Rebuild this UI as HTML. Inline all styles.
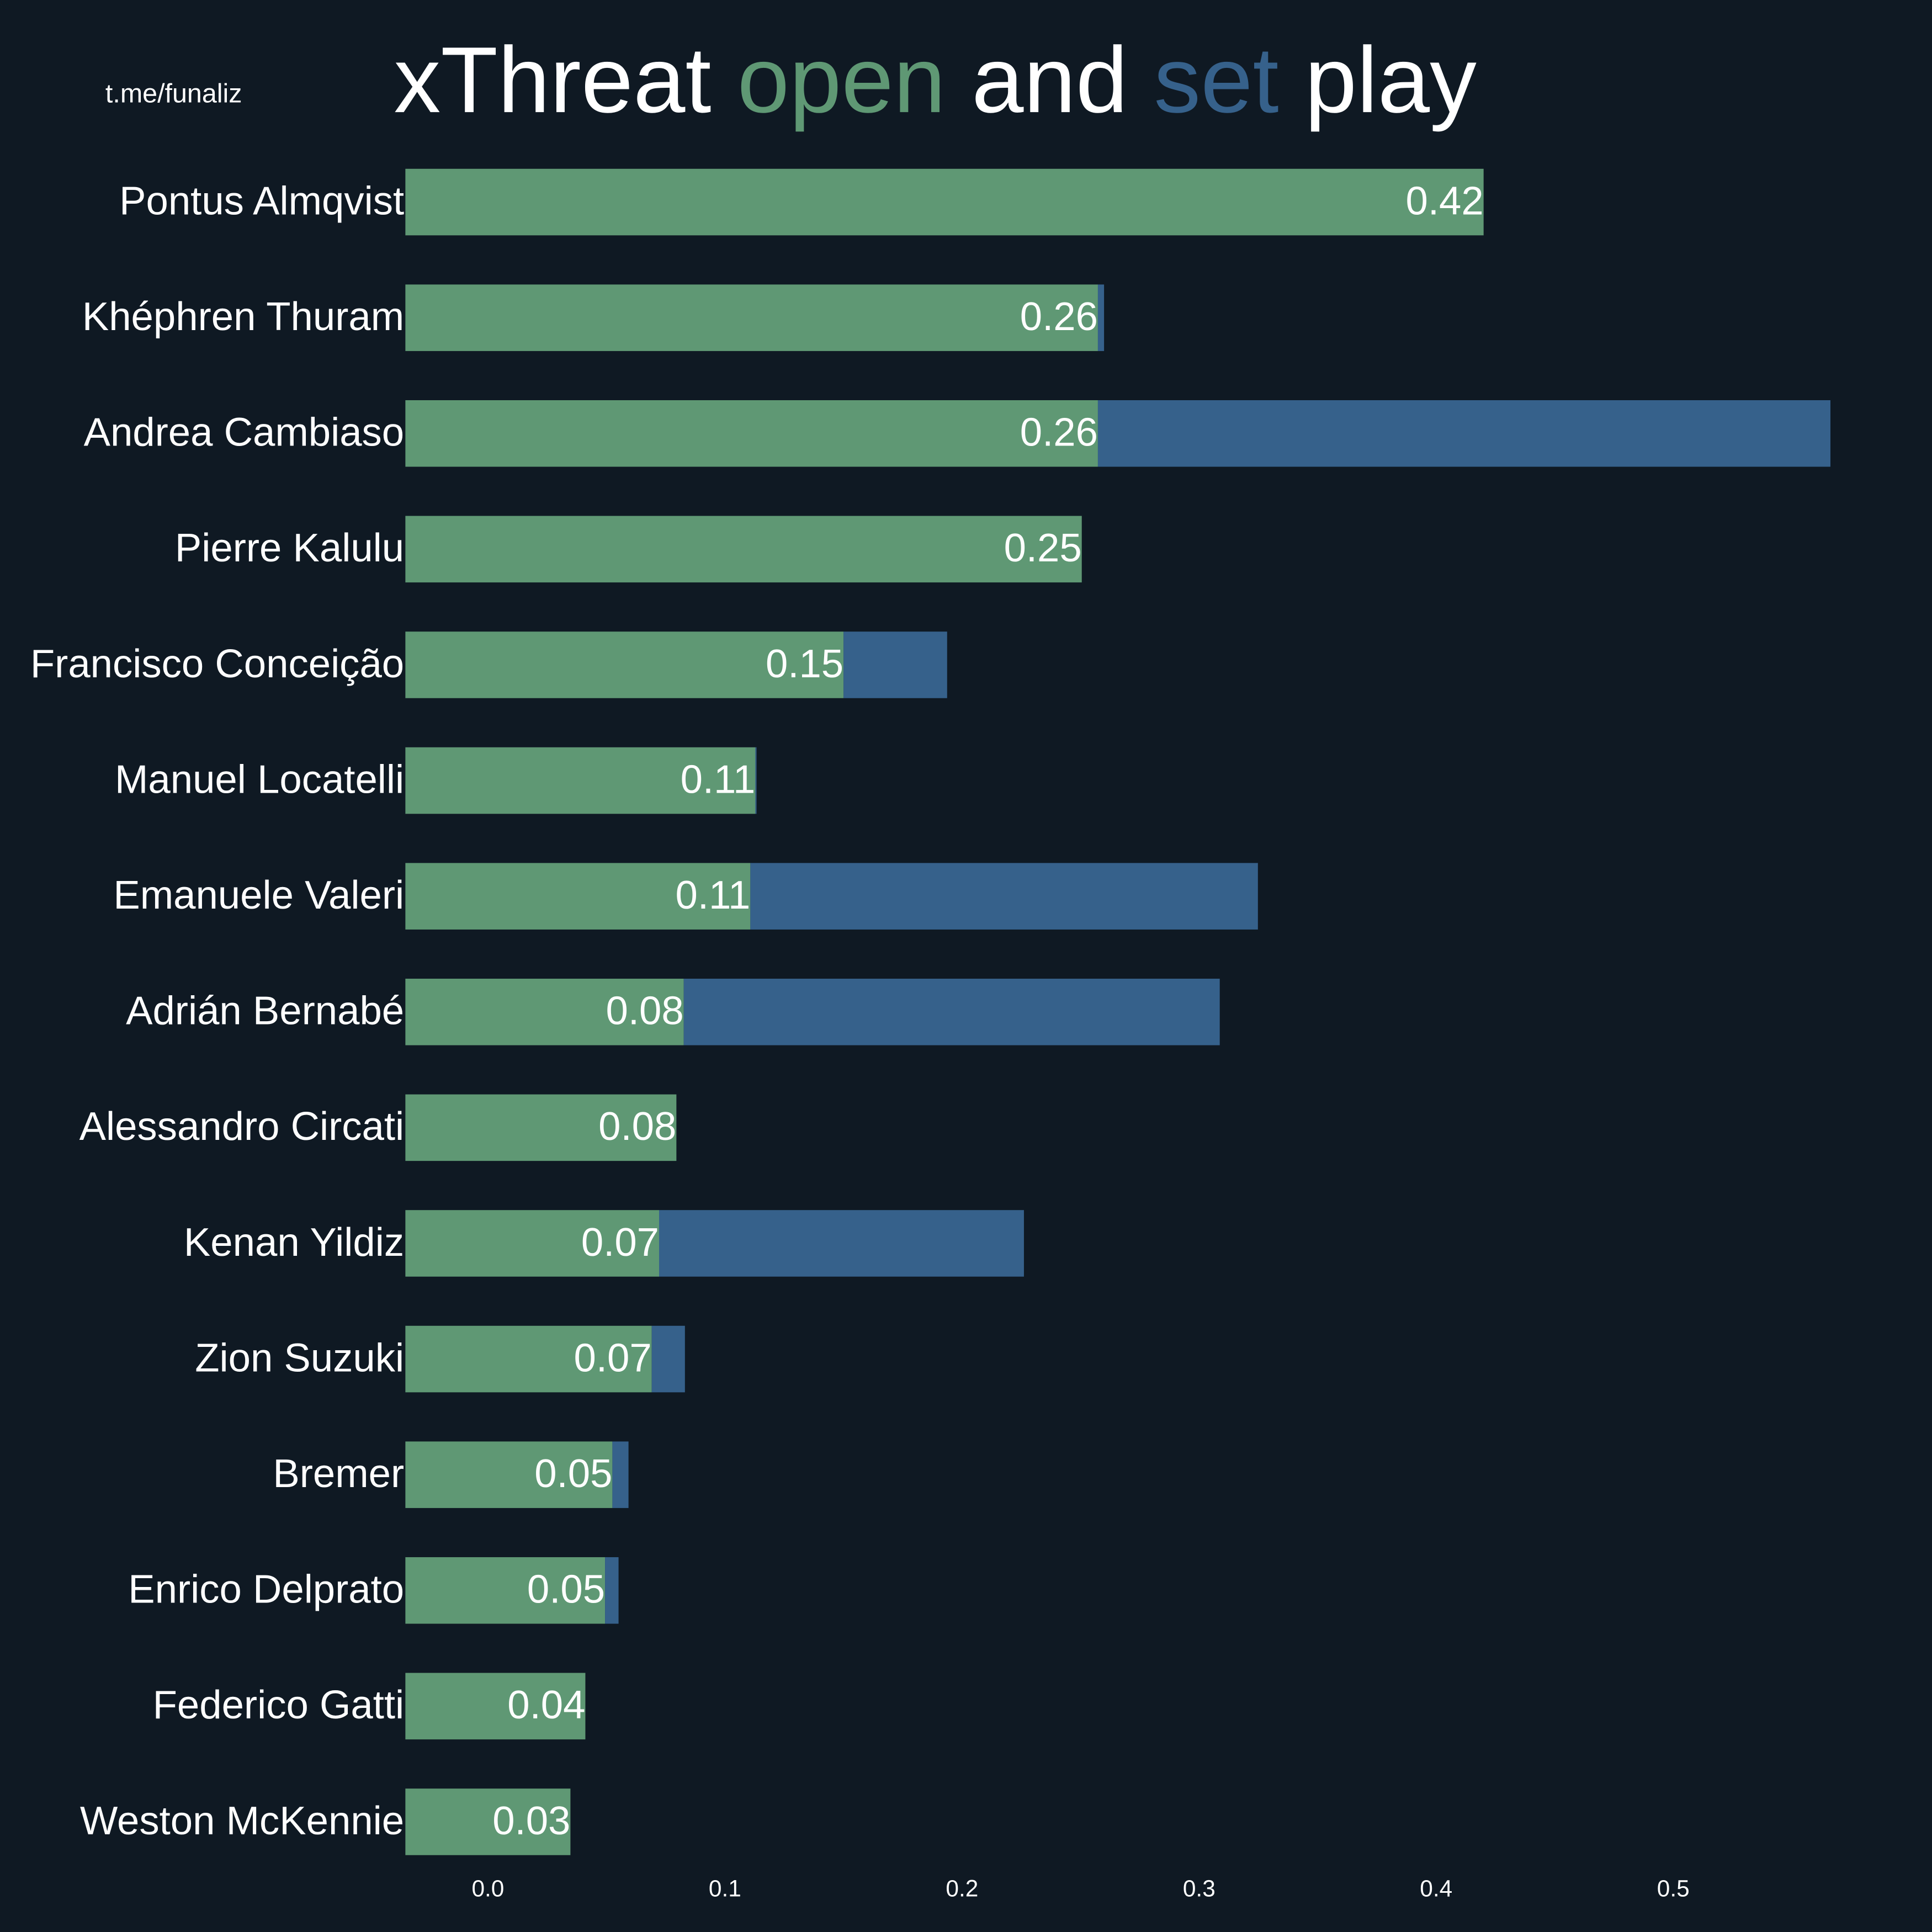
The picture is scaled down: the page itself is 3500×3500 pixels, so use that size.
<!DOCTYPE html>
<html><head><meta charset="utf-8">
<style>
html,body{margin:0;padding:0;background:#0f1923;}
svg{display:block;}
text{font-family:"Liberation Sans",Arial,sans-serif;fill:#ffffff;}
</style></head>
<body>
<svg id="chart" width="3500" height="3500" viewBox="0 0 1568 1568" xmlns="http://www.w3.org/2000/svg">
<rect x="0" y="0" width="1568" height="1568" fill="#0f1923"/>
<text x="141" y="83" font-size="21.7" text-anchor="middle">t.me/funaliz</text>
<text x="759" y="91" font-size="76" text-anchor="middle">xThreat <tspan fill="#5f9874">open</tspan> and <tspan fill="#36618b">set</tspan> play</text>
<g id="bars"></g>
<g id="ticks"></g>
</svg>
<script>
const players = ["Pontus Almqvist","Khéphren Thuram","Andrea Cambiaso","Pierre Kalulu","Francisco Conceição","Manuel Locatelli","Emanuele Valeri","Adrián Bernabé","Alessandro Circati","Kenan Yildiz","Zion Suzuki","Bremer","Enrico Delprato","Federico Gatti","Weston McKennie"];
const openPlay = [0.420,0.2573,0.2573,0.2505,0.150,0.1128,0.1107,0.0826,0.0795,0.0722,0.0691,0.0525,0.0494,0.0411,0.0348];
const setPlay = [0,0.0026,0.309,0,0.0437,0.0005,0.2141,0.2261,0,0.1539,0.0140,0.0068,0.0057,0,0];
const xTicks = [0.0,0.1,0.2,0.3,0.4,0.5];

const NS = "http://www.w3.org/2000/svg";
const x = v => 396 + v * 1924;
const axisLeft = 329;
const y = i => 164 + i * 93.9;
const barH = 54;
const bars = document.getElementById('bars');
const ticks = document.getElementById('ticks');

players.forEach((p, i) => {
  const cy = y(i);
  const o = document.createElementNS(NS, 'rect');
  
  
  o.setAttribute('x', axisLeft);
  o.setAttribute('y', cy - barH / 2);
  o.setAttribute('width', Math.max(0, x(openPlay[i]) - axisLeft));
  o.setAttribute('height', barH);
  o.setAttribute('fill', '#5f9874');
  bars.appendChild(o);
  if (setPlay[i] > 0) {
    const s = document.createElementNS(NS, 'rect');
    
    
    s.setAttribute('x', x(openPlay[i]));
    s.setAttribute('y', cy - barH / 2);
    s.setAttribute('width', x(openPlay[i] + setPlay[i]) - x(openPlay[i]));
    s.setAttribute('height', barH);
    s.setAttribute('fill', '#36618b');
    bars.appendChild(s);
  }
  const lbl = document.createElementNS(NS, 'text');
  
  
  lbl.setAttribute('x', 328);
  lbl.setAttribute('y', cy + 10);
  lbl.setAttribute('font-size', '32.5');
  lbl.setAttribute('text-anchor', 'end');
  lbl.textContent = p;
  bars.appendChild(lbl);
  const val = document.createElementNS(NS, 'text');
  
  
  val.setAttribute('x', x(openPlay[i]));
  val.setAttribute('y', cy + 10);
  val.setAttribute('font-size', '32.5');
  val.setAttribute('text-anchor', 'end');
  val.textContent = openPlay[i].toFixed(2);
  bars.appendChild(val);
});

xTicks.forEach(t => {
  const tl = document.createElementNS(NS, 'text');
  
  
  tl.setAttribute('x', x(t));
  tl.setAttribute('y', 1539);
  tl.setAttribute('font-size', '19');
  tl.setAttribute('text-anchor', 'middle');
  tl.textContent = t.toFixed(1);
  ticks.appendChild(tl);
});
</script>
</body></html>
